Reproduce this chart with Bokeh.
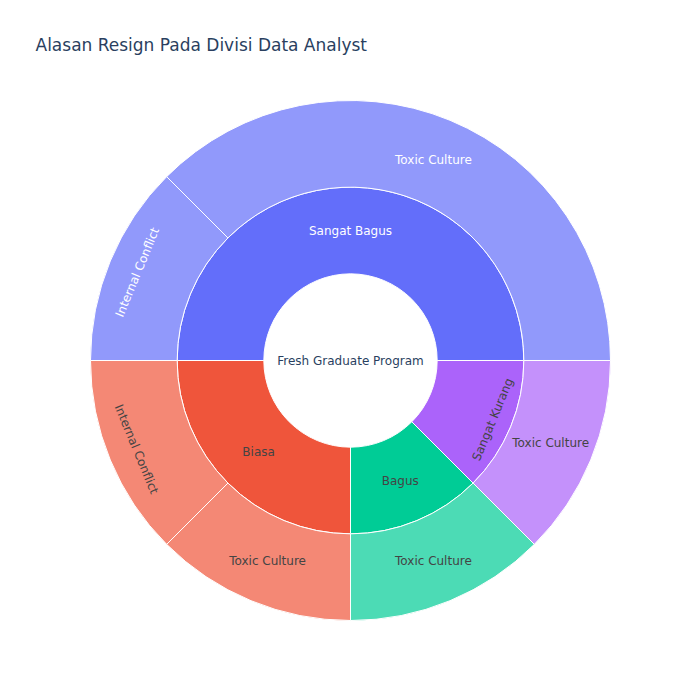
import math
from bokeh.plotting import figure
from bokeh.models import Range1d, ColumnDataSource, Label
from bokeh.core.properties import value
from bokeh.embed import file_html
from bokeh.resources import INLINE

# ---- data ----
title_text = "Alasan Resign Pada Divisi Data Analyst"
program = "Fresh Graduate Program"
kepuasan = ["Sangat Bagus", "Biasa", "Bagus", "Sangat Kurang"]
leaf_parent = ["Sangat Bagus", "Sangat Bagus", "Biasa", "Biasa", "Bagus", "Sangat Kurang"]
leaf_label = ["Toxic Culture", "Internal Conflict", "Internal Conflict", "Toxic Culture", "Toxic Culture", "Toxic Culture"]
leaf_count = [3, 1, 1, 1, 1, 1]

# ---- styles ----
FONT = "DejaVu Sans"
parent_colors = ["#636efa", "#EF553B", "#00cc96", "#ab63fa"]
parent_text_colors = ["white", "#444444", "#444444", "#444444"]
leaf_text_colors = ["white", "white", "#444444", "#444444", "#444444", "#444444"]
parent_rotate = [False, False, False, True]
leaf_rotate = [False, True, True, False, False, False]
parent_roff = [0, 0, 0, 24]          # radial offset of label (px)
leaf_roff = [0, 14, 15, 0, 0, 0]

W, H = 700, 700
CX, CY = 350, 700 - 360
R = 260.0
r0, r1, r2 = R / 3, 2 * R / 3, R

total = sum(leaf_count)
parent_vals = [sum(c for pp, c in zip(leaf_parent, leaf_count) if pp == k) for k in kepuasan]

def tang_angle(mid):
    a = mid - math.pi / 2
    while a > math.pi:
        a -= 2 * math.pi
    while a <= -math.pi:
        a += 2 * math.pi
    if a > math.pi / 2:
        a -= math.pi
    elif a < -math.pi / 2:
        a += math.pi
    return a

# parent wedges
p_start, p_end = [], []
acc = 0.0
for v in parent_vals:
    p_start.append(2 * math.pi * acc / total)
    acc += v
    p_end.append(2 * math.pi * acc / total)

# leaf wedges (ordered within parents)
l_start, l_end, l_color, l_text_col, l_rot, l_lab, l_off = [], [], [], [], [], [], []
for i, k in enumerate(kepuasan):
    acc = p_start[i] * total / (2 * math.pi)
    for j, (pp, lab, c) in enumerate(zip(leaf_parent, leaf_label, leaf_count)):
        if pp != k:
            continue
        l_start.append(2 * math.pi * acc / total)
        acc += c
        l_end.append(2 * math.pi * acc / total)
        l_color.append(parent_colors[i])
        l_text_col.append(leaf_text_colors[j])
        l_rot.append(leaf_rotate[j])
        l_lab.append(lab)
        l_off.append(leaf_roff[j])

p = figure(width=W, height=H, output_backend="svg", toolbar_location=None,
           x_range=Range1d(0, W), y_range=Range1d(0, H), min_border=0,
           tools="")
p.axis.visible = False
p.xgrid.visible = False
p.ygrid.visible = False
p.outline_line_color = None
p.background_fill_color = "white"
p.border_fill_color = "white"

src_p = ColumnDataSource(dict(start=p_start, end=p_end, color=parent_colors))
p.annular_wedge(x=CX, y=CY, inner_radius=r0, outer_radius=r1, start_angle="start", end_angle="end",
                fill_color="color", line_color="white", line_width=1, source=src_p)

src_l = ColumnDataSource(dict(start=l_start, end=l_end, color=l_color))
p.annular_wedge(x=CX, y=CY, inner_radius=r1, outer_radius=r2, start_angle="start", end_angle="end",
                fill_color="color", fill_alpha=0.7, line_color="white", line_width=1, source=src_l)

# labels
tx, ty, tt, tc, ta = [], [], [], [], []
for i, k in enumerate(kepuasan):
    mid = (p_start[i] + p_end[i]) / 2
    rr = (r0 + r1) / 2 + parent_roff[i]
    tx.append(CX + rr * math.cos(mid)); ty.append(CY + rr * math.sin(mid))
    tt.append(k); tc.append(parent_text_colors[i])
    ta.append(tang_angle(mid) if parent_rotate[i] else 0.0)
for s, e, lab, col, rot, off in zip(l_start, l_end, l_lab, l_text_col, l_rot, l_off):
    mid = (s + e) / 2
    rr = (r1 + r2) / 2 + off
    tx.append(CX + rr * math.cos(mid)); ty.append(CY + rr * math.sin(mid))
    tt.append(lab); tc.append(col)
    ta.append(tang_angle(mid) if rot else 0.0)
tx.append(CX); ty.append(CY); tt.append(program); tc.append("#2a3f5f"); ta.append(0.0)

src_t = ColumnDataSource(dict(x=tx, y=ty, text=tt, color=tc, angle=ta))
p.text(x="x", y="y", text="text", angle="angle", text_color="color", source=src_t,
       text_font=value(FONT), text_font_size="12px", text_align="center",
       text_baseline="middle")

p.add_layout(Label(x=35, y=H - 44, text=title_text, text_font=FONT, text_font_size="17px",
                   text_color="#2a3f5f", text_baseline="middle", text_align="left"))

open("out.html", "w").write(file_html(p, INLINE))
